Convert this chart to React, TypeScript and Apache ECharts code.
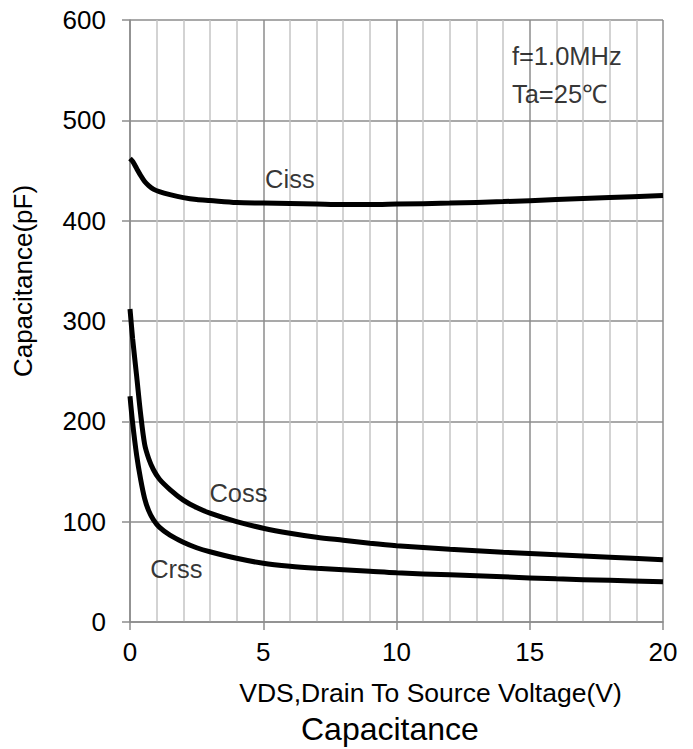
import React, { useEffect, useRef } from "react";
import * as echarts from "echarts";

const vds = [0, 0.1, 0.25, 0.4, 0.55, 0.7, 0.875, 1.1, 1.5, 2, 2.5, 3, 4, 5, 6, 7, 8, 9, 10, 12, 14, 16, 18, 20];
const ciss = [462, 459, 452, 445, 439, 435, 431.5, 429, 426, 423, 421, 420, 418, 417.5, 417, 416.5, 416, 416, 416.5, 417.5, 419, 421, 423, 425];
const coss = [312, 282, 245, 207, 177, 163, 152, 142.5, 132, 121.5, 114, 108.5, 100, 93.5, 88.5, 84.5, 81.5, 78.5, 76, 72.5, 69.5, 67, 64.5, 62];
const crss = [225, 198, 166, 142, 123, 111, 102, 94.5, 86.5, 79.5, 74, 70, 63.5, 58.5, 55.5, 53.5, 52, 50.5, 49, 47, 45, 43, 41.5, 40];

const curveLabels = [
  { name: "Ciss", x: 6.0, y: 442 },
  { name: "Coss", x: 4.07, y: 129 },
  { name: "Crss", x: 1.74, y: 53 },
];
const conditionLabels = [
  { name: "f=1.0MHz", x: 14.33, y: 564 },
  { name: "Ta=25℃", x: 14.33, y: 526 },
];

const FONT = "'Liberation Sans', Arial, sans-serif";

export default function App() {
  const ref = useRef<HTMLDivElement>(null);
  useEffect(() => {
    if (!ref.current) return;
    const chart = echarts.init(ref.current, undefined, { renderer: "svg" });
    const lineStyle = { color: "#000", width: 5 };
    const mk = (vals: number[]) => vds.map((v, i) => [v, vals[i]]);
    const lineSeries = (name: string, vals: number[]) => ({
      name,
      type: "line",
      data: mk(vals),
      smooth: 0.3,
      showSymbol: false,
      lineStyle,
    });
    chart.setOption({
      animation: false,
      backgroundColor: "#fff",
      title: {
        text: "Capacitance",
        left: 296,
        top: 708,
        textStyle: { fontFamily: FONT, fontSize: 32, fontWeight: "normal", color: "#000" },
      },
      grid: { left: 130, right: 30, top: 20, bottom: 127 },
      xAxis: {
        type: "value",
        min: 0,
        max: 20,
        interval: 5,
        name: "VDS,Drain To Source Voltage(V)",
        nameLocation: "middle",
        nameGap: 57,
        nameTextStyle: { fontFamily: FONT, fontSize: 26.5, color: "#000", padding: [0, 0, 0, 68] },
        axisLine: { show: true, lineStyle: { color: "#8c8c8c", width: 1.5 } },
        axisTick: { show: true, inside: false, length: 8, lineStyle: { color: "#8c8c8c", width: 1.5 } },
        axisLabel: { fontFamily: FONT, fontSize: 26, color: "#000", margin: 17 },
        splitLine: { show: true, lineStyle: { color: "#8c8c8c", width: 1.5 } },
        minorTick: { show: false, splitNumber: 5 },
        minorSplitLine: { show: true, lineStyle: { color: "#c4c4c4", width: 1.5 } },
      },
      yAxis: {
        type: "value",
        min: 0,
        max: 600,
        interval: 100,
        name: "Capacitance(pF)",
        nameLocation: "middle",
        nameGap: 94,
        nameTextStyle: { fontFamily: FONT, fontSize: 26, color: "#000", padding: [0, 0, 0, 80] },
        axisLine: { show: true, lineStyle: { color: "#8c8c8c", width: 1.5 } },
        axisTick: { show: true, inside: false, length: 8, lineStyle: { color: "#8c8c8c", width: 1.5 } },
        axisLabel: { fontFamily: FONT, fontSize: 26, color: "#000", margin: 24 },
        splitLine: { show: true, lineStyle: { color: "#8c8c8c", width: 1.5 } },
      },
      series: [
        lineSeries("Ciss", ciss),
        lineSeries("Coss", coss),
        lineSeries("Crss", crss),
        {
          type: "scatter",
          symbolSize: 0,
          silent: true,
          data: curveLabels.map((l) => ({ name: l.name, value: [l.x, l.y] })),
          label: {
            show: true,
            position: [0, 0],
            align: "center",
            verticalAlign: "middle",
            formatter: "{b}",
            fontFamily: FONT,
            fontSize: 25.5,
            color: "#000",
          },
        },
        {
          type: "scatter",
          symbolSize: 0,
          silent: true,
          data: conditionLabels.map((l) => ({ name: l.name, value: [l.x, l.y] })),
          label: {
            show: true,
            position: [0, 0],
            align: "left",
            verticalAlign: "middle",
            formatter: "{b}",
            fontFamily: FONT,
            fontSize: 25.5,
            color: "#000",
          },
        },
      ],
    });
    return () => chart.dispose();
  }, []);
  return (
    <div
      ref={ref}
      style={{ position: "fixed", left: 0, top: 0, width: 693, height: 749, background: "#fff" }}
    />
  );
}
